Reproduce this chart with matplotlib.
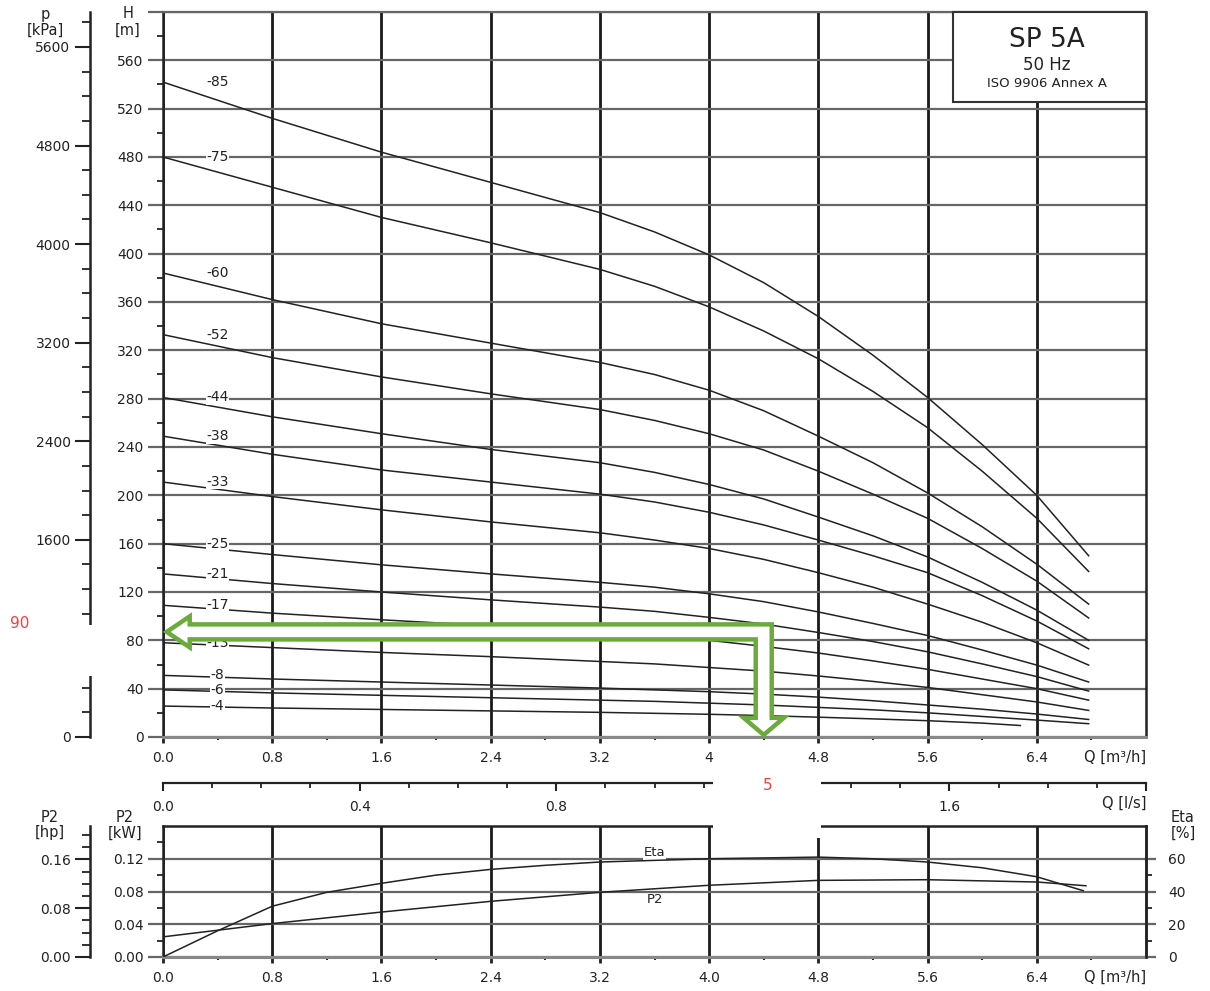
import numpy as np
import matplotlib
matplotlib.use('Agg')
import matplotlib.pyplot as plt
from matplotlib.patches import Rectangle, Polygon
from matplotlib.ticker import FixedLocator, MultipleLocator

W, H = 1210, 991
plt.rcParams['font.family'] = ['DejaVu Sans']
plt.rcParams['text.color'] = '#222222'
plt.rcParams['xtick.color'] = '#222222'
plt.rcParams['ytick.color'] = '#222222'

# ---- pump curves (H in m vs Q in m3/h), one per stage count ----
q_grid = [0, 0.8, 1.6, 2.4, 3.2, 3.6, 4.0, 4.4, 4.8, 5.2, 5.6, 6.0, 6.4, 6.78]
q_short = [0, 0.8, 1.6, 2.4, 3.2, 3.6, 4.0, 4.4, 4.8, 5.2, 5.6, 6.0, 6.28]

h_85 = [542, 512, 484, 459, 434, 418, 399, 376, 348, 316, 281, 242, 200, 150]
h_75 = [480, 455, 430, 409, 387, 373, 356, 336, 313, 286, 256, 220, 181, 137]
h_60 = [384, 362, 342, 326, 310, 300, 287, 270, 249, 227, 202, 174, 143, 110]
h_52 = [333, 314, 298, 284, 271, 262, 251, 237.5, 220, 201, 181, 156, 129, 98.5]
h_44 = [281, 265, 251, 238, 227, 219, 209, 197, 182, 166.5, 149, 128, 105, 80]
h_38 = [249, 234, 221, 211, 201, 194.5, 186, 175.5, 163, 150, 136, 117, 96, 73]
h_33 = [211, 199, 188, 178, 169, 163, 156, 147, 136, 124, 110, 95, 78, 59.5]
h_25 = [160, 151, 142.5, 135, 128, 124, 118.5, 112, 103.5, 94, 84, 72, 59.5, 45.5]
h_21 = [135, 127, 120, 113.5, 107.5, 104, 99, 93.5, 86.5, 79, 70.5, 60.5, 50, 38]
h_17 = [109, 102.5, 97, 92, 86.5, 83.5, 80, 75, 69.5, 63, 56, 48, 40, 30.5]
h_13 = [78, 74, 70, 66.5, 62.5, 60.5, 57.5, 54.5, 50.5, 46, 41, 35, 29, 22]
h_8 = [51, 48, 45.5, 43, 40.5, 39, 37.5, 35.5, 33, 30, 26.5, 23, 19, 14.5]
h_6 = [39, 36.5, 34.5, 32.5, 30.5, 29.5, 28, 26.5, 24.5, 22.5, 20, 17, 14, 11]
h_4 = [25.6, 24, 22.8, 21.6, 20.4, 19.6, 18.8, 17.7, 16.4, 15, 13.5, 11.5, 9.5]

curves = [('-85', q_grid, h_85), ('-75', q_grid, h_75), ('-60', q_grid, h_60),
          ('-52', q_grid, h_52), ('-44', q_grid, h_44), ('-38', q_grid, h_38),
          ('-33', q_grid, h_33), ('-25', q_grid, h_25), ('-21', q_grid, h_21),
          ('-17', q_grid, h_17), ('-13', q_grid, h_13), ('-8', q_grid, h_8),
          ('-6', q_grid, h_6), ('-4', q_short, h_4)]

# ---- power / efficiency ----
q_eta = [0, 0.4, 0.8, 1.2, 1.6, 2.0, 2.4, 2.8, 3.2, 3.6, 4.0, 4.4, 4.8, 5.2, 5.6, 6.0, 6.4, 6.74]
eta = [0, 16, 31, 39.5, 45, 50, 53.5, 56, 58, 59, 60, 60.5, 61, 60, 58, 54.5, 49, 40.5]
q_p2 = [0, 0.8, 1.6, 2.4, 3.2, 4.0, 4.8, 5.6, 6.4, 6.76]
p2_kw = [0.0246, 0.0408, 0.0549, 0.068, 0.079, 0.0876, 0.0936, 0.0944, 0.0916, 0.087]

# duty point marked by the green arrows
duty_q, duty_h = 4.4, 87

Q_MAX, H_MAX, P_MAX = 7.2, 600, 0.16
KPA_PER_M = 9.80665
HP_PER_KW = 1.34102

grid_h = '#666666'
grid_v = '#1a1a1a'


def fx(px):
    return px / W


def fy(py):
    return 1 - py / H


fig = plt.figure(figsize=(W / 100, H / 100), dpi=100)

# ================= main H-Q panel =================
ax = fig.add_axes([fx(163), fy(737), 983 / W, 725 / H])
ax.set_xlim(0, Q_MAX)
ax.set_ylim(0, H_MAX)
for s in ['left', 'right']:
    ax.spines[s].set_color('#222222')
    ax.spines[s].set_linewidth(1.8)
ax.spines['top'].set_color(grid_h)
ax.spines['top'].set_linewidth(1.6)
ax.spines['bottom'].set_color('#888888')
ax.spines['bottom'].set_linewidth(2.2)

ax.xaxis.set_major_locator(FixedLocator(np.arange(0, 6.41, 0.8)))
ax.xaxis.set_minor_locator(FixedLocator(np.arange(0.4, 7.0, 0.8)))
ax.set_xticklabels(['0.0', '0.8', '1.6', '2.4', '3.2', '4', '4.8', '5.6', '6.4'])
ax.yaxis.set_major_locator(FixedLocator(np.arange(0, 601, 40)))
ax.yaxis.set_minor_locator(FixedLocator(np.arange(20, 600, 40)))
ax.set_yticklabels([str(v) for v in range(0, 561, 40)] + [''])
ax.tick_params(axis='y', which='major', length=11, width=1.6, color=grid_h, pad=3, labelsize=10)
ax.tick_params(axis='y', which='minor', length=4.5, width=1.3)
ax.tick_params(axis='x', which='major', length=4, width=2, pad=6, labelsize=10)
ax.tick_params(axis='x', which='minor', length=2.5, width=1.5)
ax.xaxis.grid(True, which='major', color=grid_v, lw=2)
ax.yaxis.grid(True, which='major', color=grid_h, lw=1.6)
ax.set_axisbelow(True)

for lab, q, h in curves:
    ax.plot(q, h, color='#222222', lw=1.1, zorder=3)
    ax.text(0.40, h[0], lab, fontsize=10, ha='center', va='center', zorder=4,
            bbox=dict(facecolor='white', edgecolor='none', pad=0.3))

# title box
ax.add_patch(Rectangle((0.8037, 0.8759), 0.1963, 0.1241, transform=ax.transAxes,
                       facecolor='white', edgecolor='#333333', lw=1.5, zorder=5, clip_on=False))
ax.text(0.8993, 0.962, 'SP 5A', transform=ax.transAxes, fontsize=19, ha='center', va='center', zorder=6)
ax.text(0.8993, 0.927, '50 Hz', transform=ax.transAxes, fontsize=12, ha='center', va='center', zorder=6)
ax.text(0.8993, 0.9007, 'ISO 9906 Annex A', transform=ax.transAxes, fontsize=9.5, ha='center',
        va='center', zorder=6)

# green L-shaped arrow (offsets in pixels from the duty point)
sq = Q_MAX / 983
sh = H_MAX / 725
arrow_px = [(-597, 0), (-574, 15.5), (-574, 7.5), (8, 7.5), (8, -86), (20, -86), (0, -103),
            (-20, -86), (-8, -86), (-8, -7.5), (-574, -7.5), (-574, -15.5)]
arrow_xy = [(duty_q + dx * sq, duty_h + dy * sh) for dx, dy in arrow_px]
ax.add_patch(Polygon(arrow_xy, closed=True, facecolor='white', edgecolor='#6aab3c',
                     lw=3.2, zorder=7, joinstyle='miter'))

# pressure axis (kPa)
ax_p = fig.add_axes([fx(90), fy(737), 0.0001, 725 / H])
ax_p.set_ylim(0, H_MAX * KPA_PER_M)
for s in ['top', 'bottom', 'right']:
    ax_p.spines[s].set_visible(False)
ax_p.spines['left'].set_linewidth(1.8)
ax_p.spines['left'].set_color('#222222')
ax_p.set_xticks([])
ax_p.yaxis.set_major_locator(FixedLocator([0, 800, 1600, 2400, 3200, 4000, 4800, 5600]))
ax_p.yaxis.set_minor_locator(MultipleLocator(200))
ax_p.tick_params(axis='y', which='major', length=11, width=1.5, pad=3, labelsize=10)
ax_p.tick_params(axis='y', which='minor', length=6, width=1.3)

# ================= Q in l/s scale =================
ax_ls = fig.add_axes([fx(163), fy(783), 983 / W, 0.0001])
ax_ls.set_xlim(0, Q_MAX / 3.6)
for s in ['top', 'left', 'right']:
    ax_ls.spines[s].set_visible(False)
ax_ls.spines['bottom'].set_linewidth(1.6)
ax_ls.spines['bottom'].set_color('#222222')
ax_ls.set_yticks([])
ax_ls.xaxis.set_major_locator(FixedLocator([0, 0.4, 0.8, 1.2, 1.6, 2.0]))
ax_ls.set_xticklabels(['0.0', '0.4', '0.8', '1.2', '1.6', ''])
ax_ls.xaxis.set_minor_locator(MultipleLocator(0.1))
ax_ls.tick_params(axis='x', which='major', length=6, width=1.5, pad=6, labelsize=10)
ax_ls.tick_params(axis='x', which='minor', length=3.5, width=1.3)

# ================= P2 / Eta panel =================
ax2 = fig.add_axes([fx(163), fy(957), 983 / W, 131 / H])
ax2.set_xlim(0, Q_MAX)
ax2.set_ylim(0, P_MAX)
for s in ['left', 'right', 'top']:
    ax2.spines[s].set_color('#222222')
    ax2.spines[s].set_linewidth(1.8)
ax2.spines['bottom'].set_color('#888888')
ax2.spines['bottom'].set_linewidth(2.2)
ax2.xaxis.set_major_locator(FixedLocator(np.arange(0, 6.41, 0.8)))
ax2.xaxis.set_minor_locator(FixedLocator(np.arange(0.4, 7.0, 0.8)))
ax2.set_xticklabels(['0.0', '0.8', '1.6', '2.4', '3.2', '4.0', '4.8', '5.6', '6.4'])
ax2.yaxis.set_major_locator(FixedLocator([0, 0.04, 0.08, 0.12]))
ax2.yaxis.set_minor_locator(FixedLocator([0.02, 0.06, 0.10, 0.14]))
ax2.set_yticklabels(['0.00', '0.04', '0.08', '0.12'])
ax2.tick_params(axis='y', which='major', length=11, width=1.6, color=grid_h, pad=3, labelsize=10)
ax2.tick_params(axis='y', which='minor', length=4.5, width=1.3)
ax2.tick_params(axis='x', which='major', length=4, width=2, pad=6, labelsize=10)
ax2.tick_params(axis='x', which='minor', length=2.5, width=1.5)
ax2.xaxis.grid(True, which='major', color=grid_v, lw=2)
ax2.yaxis.grid(True, which='major', color=grid_h, lw=1.6)
ax2.set_axisbelow(True)
ax2.plot(q_p2, p2_kw, color='#222222', lw=1.1, zorder=3)

ax_eta = ax2.twinx()
ax_eta.set_ylim(0, P_MAX * 500)
for s in ['left', 'top', 'bottom']:
    ax_eta.spines[s].set_visible(False)
ax_eta.spines['right'].set_color('#222222')
ax_eta.spines['right'].set_linewidth(1.8)
ax_eta.yaxis.set_major_locator(FixedLocator([0, 20, 40, 60]))
ax_eta.yaxis.set_minor_locator(FixedLocator([10, 30, 50]))
ax_eta.tick_params(axis='y', which='major', length=7, width=1.6, color=grid_h, pad=9, labelsize=10)
ax_eta.tick_params(axis='y', which='minor', length=4, width=1.3)
ax_eta.plot(q_eta, eta, color='#222222', lw=1.1, zorder=3)
ax2.text(3.6, 0.1275, 'Eta', fontsize=9.5, ha='center', va='center', zorder=4,
         bbox=dict(facecolor='white', edgecolor='none', pad=0.5))
ax2.text(3.6, 0.0705, 'P2', fontsize=9.5, ha='center', va='center', zorder=4)

# hp axis
ax_hp = fig.add_axes([fx(90), fy(957), 0.0001, 131 / H])
ax_hp.set_ylim(0, P_MAX * HP_PER_KW)
for s in ['top', 'bottom', 'right']:
    ax_hp.spines[s].set_visible(False)
ax_hp.spines['left'].set_linewidth(1.8)
ax_hp.spines['left'].set_color('#222222')
ax_hp.set_xticks([])
ax_hp.yaxis.set_major_locator(FixedLocator([0, 0.08, 0.16]))
ax_hp.set_yticklabels(['0.00', '0.08', '0.16'])
ax_hp.yaxis.set_minor_locator(MultipleLocator(0.02))
ax_hp.tick_params(axis='y', which='major', length=11, width=1.5, pad=3, labelsize=10)
ax_hp.tick_params(axis='y', which='minor', length=6, width=1.3)

# ---- axis titles ----
def ftext(x, y, s, **kw):
    kw.setdefault('fontsize', 10.5)
    fig.text(fx(x), fy(y), s, ha=kw.pop('ha', 'center'), va='center', **kw)


ftext(128, 13, 'H')
ftext(128, 30, '[m]')
ftext(45, 14, 'p')
ftext(45, 30, '[kPa]')
ftext(50, 818, 'P2')
ftext(50, 833, '[hp]')
ftext(125, 818, 'P2')
ftext(125, 833, '[kW]')
ftext(1183, 818, 'Eta')
ftext(1183, 833, '[%]')
ftext(1146, 757, 'Q [m³/h]', ha='right')
ftext(1146, 977, 'Q [m³/h]', ha='right')
ftext(1146, 803, 'Q [l/s]', ha='right')

# erased strips with the red annotations
fig.add_artist(Rectangle((0, fy(676)), fx(100), 51 / H, transform=fig.transFigure,
                         facecolor='white', edgecolor='none', zorder=5))
fig.add_artist(Rectangle((fx(713), fy(838)), 108 / W, 62 / H, transform=fig.transFigure,
                         facecolor='white', edgecolor='none', zorder=5))
fig.text(fx(20), fy(623), '90', color='#ff3b3b', fontsize=11, ha='center', va='center', zorder=6)
fig.text(fx(768), fy(785), '5', color='#ff3b3b', fontsize=11, ha='center', va='center', zorder=6)

fig.savefig('out.png', dpi=100)
